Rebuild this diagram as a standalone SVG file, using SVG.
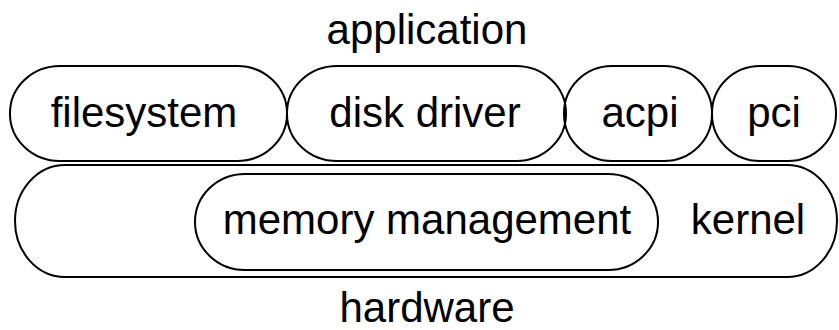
<svg xmlns="http://www.w3.org/2000/svg" width="839" height="330" viewBox="0 0 839 330">
<style>
.n{fill:none;stroke:#000;stroke-width:2}
.t{font-family:"Liberation Sans",Arial,sans-serif;font-size:42px;fill:#000;text-anchor:middle}
</style>
<rect width="839" height="330" fill="#fff"/>
<g id="kernel"><rect class="n" x="15" y="165" width="822" height="112" rx="50" ry="56"/><text class="t" x="748" y="234">kernel</text></g>
<g id="memory"><rect class="n" x="195" y="174" width="463" height="96" rx="50" ry="48"/><text class="t" x="427" y="234">memory management</text></g>
<g id="filesystem"><rect class="n" x="10" y="66" width="277" height="95" rx="50" ry="47"/><text class="t" x="144" y="127">filesystem</text></g>
<g id="diskdriver"><rect class="n" x="287" y="66" width="279" height="95" rx="50" ry="47"/><text class="t" x="425" y="127">disk driver</text></g>
<g id="acpi"><rect class="n" x="564" y="66" width="148" height="95" rx="48" ry="47"/><text class="t" x="640" y="127">acpi</text></g>
<g id="pci"><rect class="n" x="712" y="66" width="124" height="95" rx="48" ry="47"/><text class="t" x="774" y="127">pci</text></g>
<g id="application"><text class="t" x="427" y="44">application</text></g>
<g id="hardware"><text class="t" x="427" y="322">hardware</text></g>
<g id="connectors"/>
</svg>
